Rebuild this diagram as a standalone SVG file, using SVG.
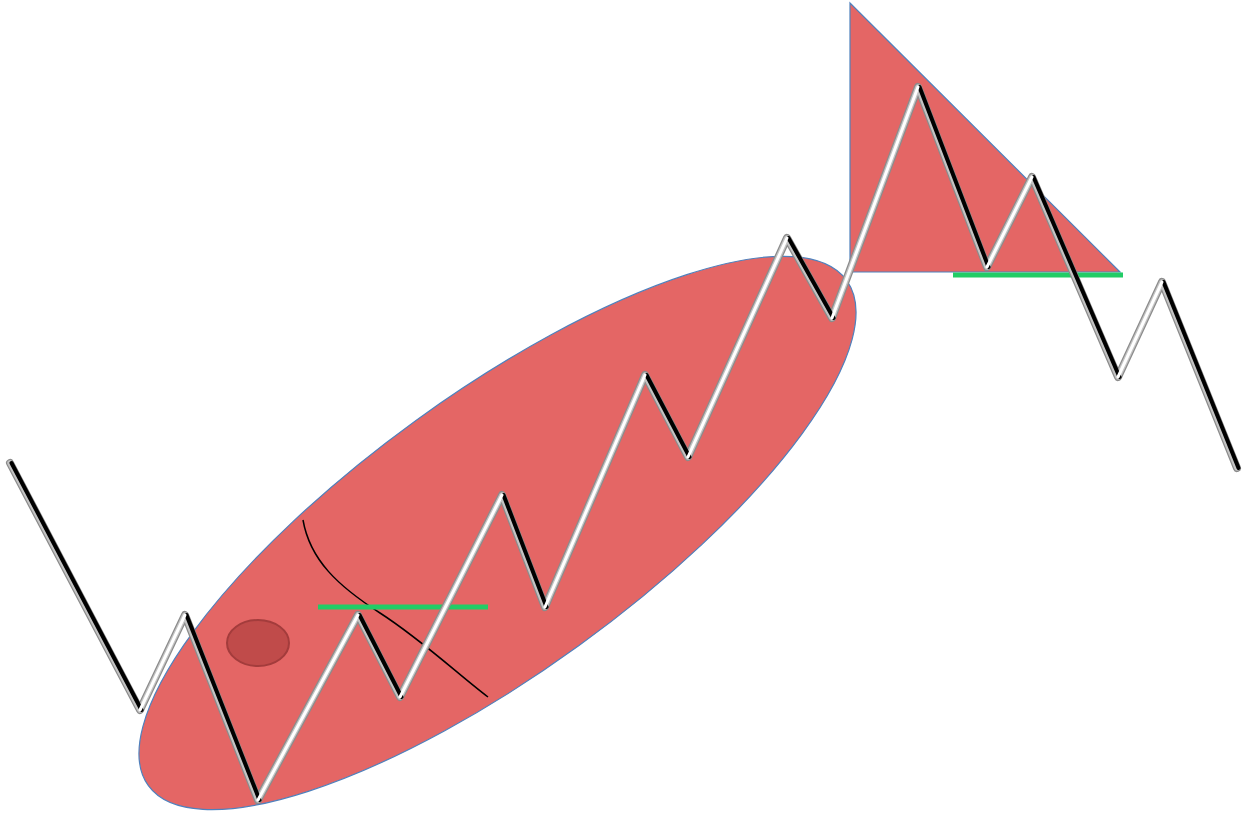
<svg xmlns="http://www.w3.org/2000/svg" width="1242" height="814" viewBox="0 0 1242 814">
<style>
.body{fill:#e46665;stroke:#4f81bd;stroke-width:1.2}
.green{stroke:#22cc66;stroke-width:5;stroke-linecap:butt}
.sh{fill:none;stroke:#8c8c8c;stroke-width:8;stroke-linecap:round;stroke-linejoin:round}
.mid{fill:none;stroke:#c4c4c4;stroke-width:5.5;stroke-linecap:round;stroke-linejoin:round}
.up{stroke:#ffffff;stroke-width:3;stroke-linecap:round}
.dn{stroke:#000000;stroke-width:4;stroke-linecap:round}
</style>
<rect width="1242" height="814" fill="#ffffff"/>
<g id="fish-body">
<ellipse class="body" cx="497.5" cy="533" rx="431" ry="139" transform="rotate(-35.9 497.5 533)"/>
</g>
<g id="fish-tail">
<polygon class="body" points="850,3 850,272 1120,272"/>
</g>
<g id="eye">
<ellipse cx="258" cy="643" rx="31" ry="23" fill="#c04b4a" stroke="#a33c3c" stroke-width="2"/>
</g>
<g id="gill">
<path d="M303,520 C310,560 338,586 380,613 S460,676 488,697" fill="none" stroke="#000" stroke-width="1.5"/>
</g>
<g id="green-lines">
<line class="green" x1="318" y1="607" x2="488" y2="607"/>
<line class="green" x1="953" y1="275" x2="1123" y2="275"/>
</g>
<g id="zigzag">
<polyline class="sh" points="10,463 140,710 185,615 258,800 358,615 400,697 502,495 545,607 645,375 688,457 787,238 832,318 918,87 987,267 1032,177 1118,377 1162,282 1237,468"/>
<polyline class="mid" points="10,463 140,710 185,615 258,800 358,615 400,697 502,495 545,607 645,375 688,457 787,238 832,318 918,87 987,267 1032,177 1118,377 1162,282 1237,468"/>
<g transform="translate(1.5,0)">
<line class="dn" x1="10" y1="463" x2="140" y2="710"/>
<line class="dn" x1="185" y1="615" x2="258" y2="800"/>
<line class="dn" x1="358" y1="615" x2="400" y2="697"/>
<line class="dn" x1="502" y1="495" x2="545" y2="607"/>
<line class="dn" x1="645" y1="375" x2="688" y2="457"/>
<line class="dn" x1="787" y1="238" x2="832" y2="318"/>
<line class="dn" x1="918" y1="87" x2="987" y2="267"/>
<line class="dn" x1="1032" y1="177" x2="1118" y2="377"/>
<line class="dn" x1="1162" y1="282" x2="1237" y2="468"/>
</g>
<line class="up" x1="140" y1="710" x2="185" y2="615"/>
<line class="up" x1="258" y1="800" x2="358" y2="615"/>
<line class="up" x1="400" y1="697" x2="502" y2="495"/>
<line class="up" x1="545" y1="607" x2="645" y2="375"/>
<line class="up" x1="688" y1="457" x2="787" y2="238"/>
<line class="up" x1="832" y1="318" x2="918" y2="87"/>
<line class="up" x1="987" y1="267" x2="1032" y2="177"/>
<line class="up" x1="1118" y1="377" x2="1162" y2="282"/>
</g>
</svg>
